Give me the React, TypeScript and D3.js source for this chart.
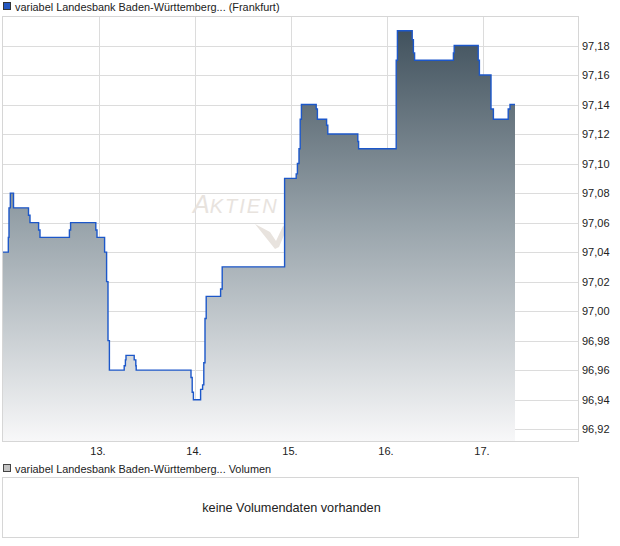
import React from "react";
import * as d3 from "d3";

const legendMain = "variabel Landesbank Baden-Württemberg... (Frankfurt)";
const legendVol = "variabel Landesbank Baden-Württemberg... Volumen";
const noVolText = "keine Volumendaten vorhanden";

// hours since 12. 00:00
const hours = [0, 1.33, 1.5, 1.83, 2.63, 6.375, 6.75, 8.9, 9.25, 16.6, 16.9, 23.2, 23.5, 25.4, 25.9, 26.25, 26.6, 30.3, 30.6, 30.75, 32.8, 33.2, 33.3, 47, 47.3, 47.6, 49.4, 49.9, 50.2, 50.5, 50.8, 54.4, 54.8, 70.4, 73.3, 73.6, 74.0, 74.3, 74.6, 78.3, 78.6, 80.9, 81.2, 88.7, 88.9, 98.3, 98.6, 102.3, 102.6, 102.9, 112.6, 112.8, 118.8, 119.1, 122, 122.6, 126.3, 126.75, 128];
const prices = [97.04, 97.05, 97.07, 97.08, 97.07, 97.065, 97.06, 97.055, 97.05, 97.055, 97.06, 97.055, 97.05, 97.04, 97.02, 96.98, 96.96, 96.963, 96.967, 96.97, 96.967, 96.963, 96.96, 96.955, 96.945, 96.94, 96.947, 96.95, 96.965, 96.995, 97.01, 97.015, 97.03, 97.09, 97.093, 97.1, 97.11, 97.13, 97.14, 97.137, 97.13, 97.126, 97.12, 97.115, 97.11, 97.17, 97.19, 97.184, 97.175, 97.17, 97.175, 97.18, 97.17, 97.16, 97.137, 97.13, 97.137, 97.14, 97.14];

const xTickHours = [24, 48, 72, 96, 120];
const xTickLabels = ["13.", "14.", "15.", "16.", "17."];
const yTicks = [96.92, 96.94, 96.96, 96.98, 97.0, 97.02, 97.04, 97.06, 97.08, 97.1, 97.12, 97.14, 97.16, 97.18];

const FONT = "'Liberation Sans', Arial, sans-serif";

export default function App() {
  const left = 2.5, right = 578.5, top = 16.5, bottom = 441.5;
  const x = d3.scaleLinear().domain([0, 143.75]).range([3, 578]);
  const y = d3.scaleLinear().domain([96.912, 97.2]).range([441, 16]);
  const data = hours.map((h, i) => ({ h, v: prices[i] }));
  const line = d3.line<any>().x(d => x(d.h)).y(d => y(d.v)).curve(d3.curveStepAfter);
  const area = d3.area<any>().x(d => x(d.h)).y0(bottom).y1(d => y(d.v)).curve(d3.curveStepAfter);
  const fmt = (v: number) => d3.format(".2f")(v).replace(".", ",");

  return (
    <svg width={620} height={546} style={{ position: "fixed", left: 0, top: 0, background: "#fff" }} fontFamily={FONT}>
      <defs>
        <linearGradient id="fillGrad" gradientUnits="userSpaceOnUse" x1={0} y1={top} x2={0} y2={bottom}>
          <stop offset="0" stopColor="#3b4c58" />
          <stop offset="0.5" stopColor="#9aa5ac" />
          <stop offset="1" stopColor="#f8f8f9" />
        </linearGradient>
      </defs>
      {/* legend 1 */}
      <rect x={3.5} y={2.5} width={7} height={7} fill="#2457c0" stroke="#333" strokeWidth={1} />
      <text x={15} y={10.5} fontSize={10.9} fill="#222">{legendMain}</text>

      {/* grid */}
      {yTicks.map(t => (
        <line key={"gy" + t} x1={left} x2={right} y1={Math.round(y(t)) + 0.5} y2={Math.round(y(t)) + 0.5} stroke="#dcdcdc" />
      ))}
      {xTickHours.map(h => (
        <line key={"gx" + h} x1={Math.round(x(h)) + 0.5} x2={Math.round(x(h)) + 0.5} y1={top} y2={bottom} stroke="#dcdcdc" />
      ))}

      {/* watermark */}
      <g fill="#e8e3de" fontStyle="italic">
        <text x={193} y={213} fontSize={25}>A<tspan fontSize={20} letterSpacing={2}>KTIEN</tspan></text>
        <path d="M255,224 L270,232 L276,241 L283,226 L287,228 L279,247 L275,249 Z" />
      </g>

      {/* area + line */}
      <path d={area(data) || ""} fill="url(#fillGrad)" />
      <path d={line(data) || ""} fill="none" stroke="#1c57c9" strokeWidth={1.4} />

      {/* frame */}
      <rect x={left} y={top} width={right - left} height={bottom - top} fill="none" stroke="#d6d6d6" />

      {/* y labels */}
      {yTicks.map(t => (
        <text key={"yl" + t} x={582} y={y(t) + 4} fontSize={11} fill="#222">{fmt(t)}</text>
      ))}
      {/* x labels */}
      {xTickHours.map((h, i) => (
        <text key={"xl" + h} x={x(h) - 1} y={455} fontSize={11} fill="#222" textAnchor="middle">{xTickLabels[i]}</text>
      ))}

      {/* legend 2 */}
      <rect x={3.5} y={464.5} width={7} height={7} fill="#c4c4c4" stroke="#444" strokeWidth={1} />
      <text x={15} y={472.5} fontSize={10.9} fill="#222">{legendVol}</text>

      {/* volume box */}
      <rect x={left} y={477.5} width={right - left} height={60} fill="none" stroke="#d6d6d6" />
      <text x={(left + right) / 2 + 1} y={511.5} fontSize={12.7} fill="#222" textAnchor="middle">{noVolText}</text>
    </svg>
  );
}
